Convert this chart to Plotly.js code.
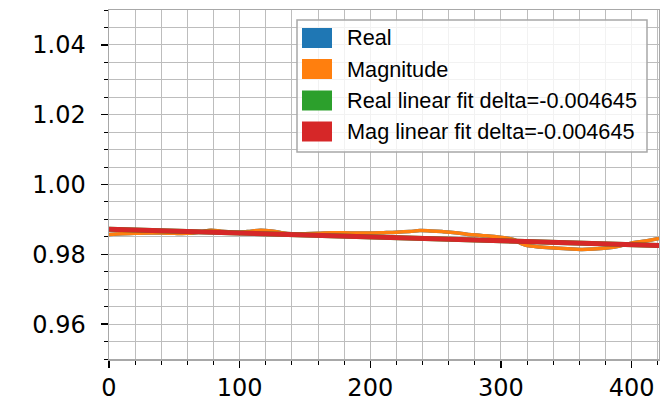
<!DOCTYPE html>
<html>
<head>
<meta charset="utf-8">
<script src="https://cdn.plot.ly/plotly-3.0.1.min.js"></script>
<style>html,body{margin:0;padding:0;background:#fff;}#chart{width:660px;height:401px;}</style>
</head>
<body>
<div id="chart"></div>
<script>
// ---- data ----
const sampleIndex = [0,10,20,30,40,50,60,70,78,86,97,106,116,124,132,140,150,160,171,185,197,210,220,230,238,246,255,265,275,285,295,301,306,310,316,320,330,341,351,361,371,381,391,401,411,421];
const magnitudeValues = [0.9857,0.9859,0.9860,0.9861,0.9861,0.9860,0.9860,0.9864,0.9869,0.9866,0.9863,0.9865,0.9869,0.9867,0.9862,0.9859,0.9859,0.9860,0.9862,0.9861,0.9861,0.9862,0.9863,0.9865,0.9868,0.9867,0.9865,0.9862,0.9857,0.9854,0.9851,0.9848,0.9845,0.9842,0.9830,0.9825,0.9821,0.9818,0.9816,0.9814,0.9815,0.9818,0.9824,0.9833,0.9838,0.9845];
const realValues = [0.9857,0.9859,0.9860,0.9861,0.9861,0.9860,0.9860,0.9864,0.9869,0.9866,0.9863,0.9865,0.9869,0.9867,0.9862,0.9859,0.9859,0.9860,0.9862,0.9861,0.9861,0.9862,0.9863,0.9865,0.9868,0.9867,0.9865,0.9862,0.9857,0.9854,0.9851,0.9848,0.9845,0.9842,0.9830,0.9825,0.9821,0.9818,0.9816,0.9814,0.9815,0.9818,0.9824,0.9833,0.9838,0.9845];
const fitIndex = [0, 421];
const realFitValues = [0.9872, 0.98255];
const magFitValues = [0.9872, 0.98255];
const seriesNames = ["Real", "Magnitude", "Real linear fit delta=-0.004645", "Mag linear fit delta=-0.004645"];
const seriesColors = ["#1f77b4", "#ff7f0e", "#2ca02c", "#d62728"];

const traces = [
  {x: sampleIndex, y: realValues, name: seriesNames[0], mode: "lines", line: {color: seriesColors[0], width: 3.5, shape: "spline"}, showlegend: false},
  {x: sampleIndex, y: magnitudeValues, name: seriesNames[1], mode: "lines", line: {color: seriesColors[1], width: 3.5, shape: "spline"}, showlegend: false},
  {x: fitIndex, y: realFitValues, name: seriesNames[2], mode: "lines", line: {color: seriesColors[2], width: 5}, showlegend: false},
  {x: fitIndex, y: magFitValues, name: seriesNames[3], mode: "lines", line: {color: seriesColors[3], width: 5}, showlegend: false}
];

// ---- custom matplotlib-style legend (patches + text) ----
const W = 660, H = 401;
const M = {l: 109, r: 1, t: 10, b: 42};
const pw = W - M.l - M.r, ph = H - M.t - M.b;
const px = v => (v - M.l) / pw;
const py = v => (H - M.b - v) / ph;

const shapes = [{
  type: "rect", xref: "paper", yref: "paper",
  x0: px(297), x1: px(647), y0: py(152), y1: py(20),
  line: {color: "#a8a8a8", width: 1.5}, fillcolor: "rgba(255,255,255,0.8)", layer: "above"
}];
const annotations = [];
const rowCenters = [38, 69, 100.5, 131.5];
seriesNames.forEach((name, i) => {
  const c = rowCenters[i];
  shapes.push({
    type: "rect", xref: "paper", yref: "paper",
    x0: px(302), x1: px(332), y0: py(c + 10), y1: py(c - 10),
    line: {width: 0}, fillcolor: seriesColors[i], layer: "above"
  });
  annotations.push({
    xref: "paper", yref: "paper", x: px(344.5), y: py(c),
    xanchor: "left", yanchor: "middle", showarrow: false, text: name,
    font: {family: "Liberation Sans, Arial, sans-serif", size: 21.7, color: "#000"}
  });
});

const gridCol = "#bdbdbd";
const layout = {
  width: W, height: H,
  margin: M,
  paper_bgcolor: "#fff", plot_bgcolor: "#fff",
  showlegend: false,
  font: {family: "DejaVu Sans, sans-serif", size: 24, color: "#000"},
  xaxis: {
    range: [0, 421], tickmode: "linear", tick0: 0, dtick: 100,
    ticks: "outside", ticklen: 7, tickwidth: 1.5, tickcolor: "#000",
    showline: true, mirror: true, linecolor: "#a8a8a8", linewidth: 1.5,
    showgrid: true, gridcolor: gridCol, gridwidth: 1, zeroline: false,
    tickfont: {family: "DejaVu Sans, sans-serif", size: 24, color: "#000"},
    minor: {dtick: 20, tick0: 0, ticks: "outside", ticklen: 4, tickwidth: 1, tickcolor: "#000", showgrid: true, gridcolor: gridCol, gridwidth: 1}
  },
  yaxis: {
    range: [0.95, 1.05], tickmode: "linear", tick0: 0.96, dtick: 0.02, tickformat: ".2f",
    ticks: "outside", ticklen: 7, tickwidth: 1.5, tickcolor: "#000",
    showline: true, mirror: true, linecolor: "#a8a8a8", linewidth: 1.5,
    showgrid: true, gridcolor: gridCol, gridwidth: 1, zeroline: false,
    ticklabelstandoff: 10,
    tickfont: {family: "DejaVu Sans, sans-serif", size: 24, color: "#000"},
    minor: {dtick: 0.005, tick0: 0.95, ticks: "outside", ticklen: 4, tickwidth: 1, tickcolor: "#000", showgrid: true, gridcolor: gridCol, gridwidth: 1}
  },
  shapes: shapes,
  annotations: annotations
};

Plotly.newPlot("chart", traces, layout, {staticPlot: true, displayModeBar: false});
</script>
</body>
</html>
